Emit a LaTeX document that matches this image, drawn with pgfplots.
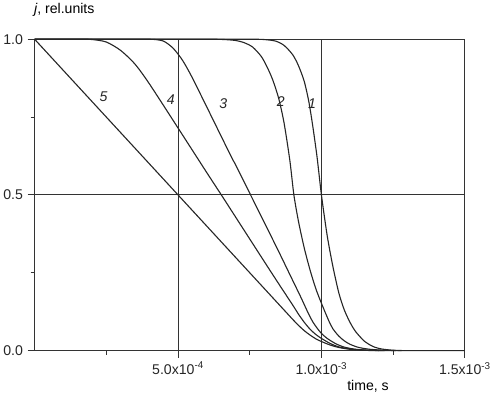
\documentclass[border=0pt]{standalone}
\usepackage{fontspec}
\setmainfont{Liberation Sans}
\usepackage{pgfplots}
\pgfplotsset{compat=1.18}

% x values in units of 1e-3 s
\begin{document}
\begin{tikzpicture}[font=\fontsize{14}{17}\selectfont]
\begin{axis}[
    scale only axis,
    width=427pt, height=309pt,
    xmin=0, xmax=1.5,
    ymin=0, ymax=1,
    axis lines*=left,
    axis line style={black!80, line width=1.2pt},
    xtick={0.5,1,1.5},
    xticklabels={5.0x10\textsuperscript{-4}, 1.0x10\textsuperscript{-3}, 1.5x10\textsuperscript{-3}},
    ytick={0,0.5,1},
    yticklabels={0.0,0.5,1.0},
    minor xtick={0.25,0.75,1.25},
    minor ytick={0.25,0.75},
    tick align=outside,
    major tick length=7pt,
    minor tick length=4pt,
    tick style={black!80, line width=0.9pt},
    grid=major,
    grid style={black!80, line width=0.8pt},
    tick label style={font=\fontsize{14}{17}\selectfont, black!85},
    xticklabel style={yshift=-1pt},
    yticklabel style={xshift=-1pt},
    label style={font=\fontsize{14}{17}\selectfont, black!85},
    every axis y label/.style={at={(axis description cs:0,1)}, anchor=south west, xshift=-4pt, yshift=19pt},
    every axis x label/.style={at={(axis description cs:0.775,0)}, anchor=north, yshift=-26pt},
    xlabel={time, s},
    ylabel={\textit{j}, rel.units},
    clip=false,
]
\pgfplotsset{curve/.style={black!85, line width=1.1pt, no marks, smooth, tension=0.45}}

% curve 1
\addplot[curve] coordinates {
(0,1)(0.72,1)(0.76,1)(0.80,0.999)(0.84,0.994)(0.87,0.98)(0.90,0.95)(0.92,0.915)(0.94,0.865)
(0.956,0.80)(0.97,0.72)(0.985,0.62)(1.0,0.5)(1.02,0.37)(1.04,0.27)
(1.061,0.184)(1.08,0.13)(1.10,0.09)(1.12,0.06)(1.15,0.03)(1.18,0.013)
(1.21,0.005)(1.25,0.001)(1.28,0)
};
% curve 2
\addplot[curve] coordinates {
(0,1)(0.58,1)(0.62,1)(0.66,0.999)(0.70,0.996)(0.73,0.989)(0.76,0.975)(0.79,0.945)(0.81,0.912)(0.83,0.87)
(0.851,0.81)(0.87,0.73)(0.89,0.61)(0.904,0.5)(0.92,0.415)(0.94,0.33)
(0.96,0.26)(0.98,0.20)(1.0,0.152)(1.026,0.095)(1.04,0.07)(1.06,0.047)
(1.08,0.031)(1.10,0.02)(1.13,0.01)(1.17,0.004)(1.22,0.001)(1.26,0)
};
% curve 3
\addplot[curve] coordinates {
(0,1)(0.34,1)(0.38,1)(0.42,0.999)(0.4515,0.993)(0.483,0.971)(0.5145,0.934)(0.546,0.883)
(0.60,0.783)(0.686,0.622)(0.70,0.598)(0.753,0.5)(0.80,0.413)(0.85,0.32)
(0.90,0.225)(0.93,0.168)(0.95,0.128)(0.97,0.092)(0.99,0.066)(1.0,0.055)
(1.02,0.039)(1.05,0.022)(1.08,0.011)(1.12,0.004)(1.17,0.001)(1.22,0)
};
% curve 4
\addplot[curve] coordinates {
(0,1)(0.12,1)(0.16,1)(0.20,0.999)(0.25,0.991)(0.30,0.964)(0.35,0.920)(0.40,0.857)
(0.50,0.715)(0.60,0.572)(0.651,0.5)(0.70,0.43)(0.80,0.287)
(0.85,0.216)(0.90,0.146)(0.92,0.117)(0.94,0.091)(0.96,0.069)(0.98,0.052)
(1.0,0.039)(1.03,0.023)(1.06,0.012)(1.10,0.005)(1.15,0.0015)(1.20,0)
};
% curve 5
\addplot[curve] coordinates {
(0,1)(0.20,0.80)(0.40,0.60)(0.60,0.40)(0.80,0.20)(0.88,0.12)(0.90,0.10)
(0.92,0.081)(0.94,0.064)(0.96,0.05)(0.98,0.038)(1.0,0.029)(1.03,0.018)
(1.06,0.01)(1.10,0.004)(1.15,0.001)(1.20,0)(1.5,0)
};

\node[font=\fontsize{14}{17}\selectfont\itshape, black!85] at (axis cs:0.24,0.816) {5};
\node[font=\fontsize{14}{17}\selectfont\itshape, black!85] at (axis cs:0.475,0.806) {4};
\node[font=\fontsize{14}{17}\selectfont\itshape, black!85] at (axis cs:0.658,0.793) {3};
\node[font=\fontsize{14}{17}\selectfont\itshape, black!85] at (axis cs:0.858,0.80) {2};
\node[font=\fontsize{14}{17}\selectfont\itshape, black!85] at (axis cs:0.967,0.793) {1};
\path (rel axis cs:0,0) ++(0,-55pt) coordinate (padbottom);
\end{axis}
\end{tikzpicture}
\end{document}
